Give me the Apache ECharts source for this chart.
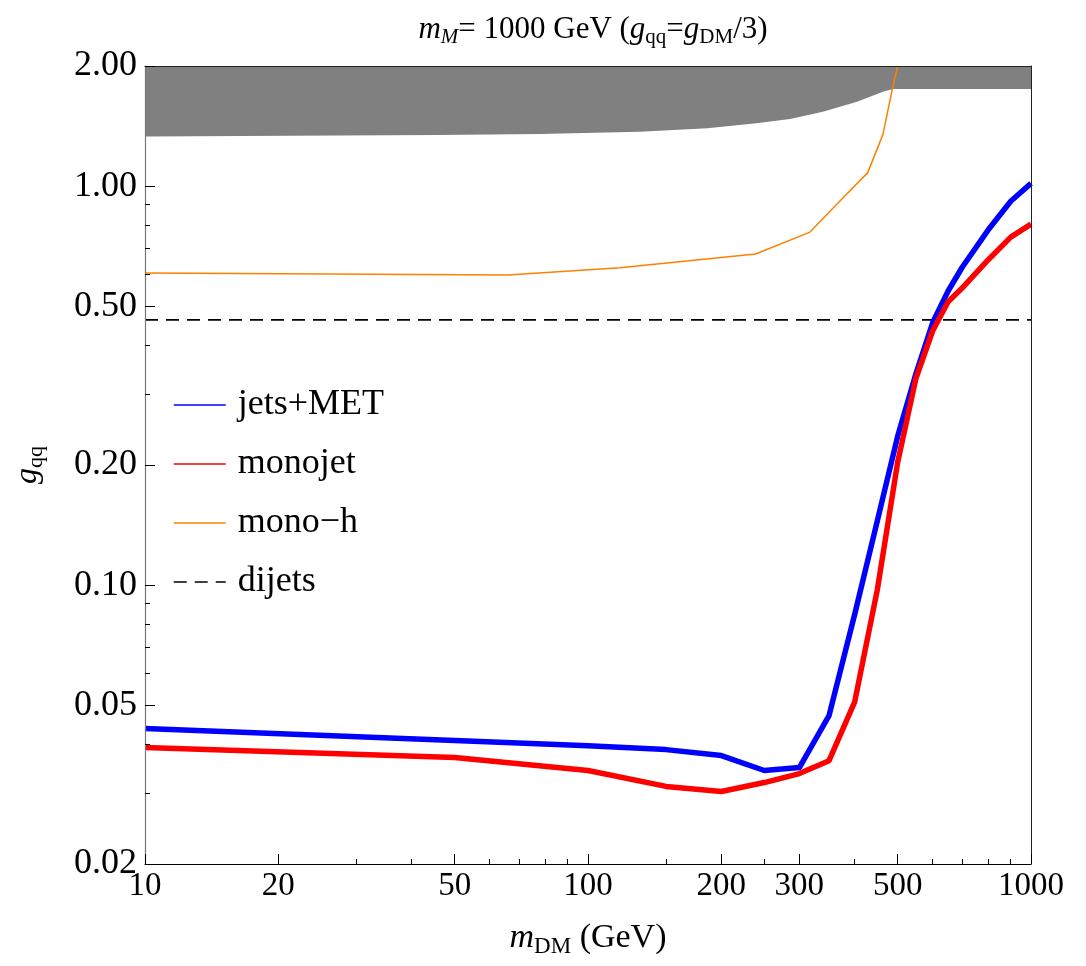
<!DOCTYPE html>
<html>
<head>
<meta charset="utf-8">
<script src="https://cdn.jsdelivr.net/npm/echarts@6/dist/echarts.min.js"></script>
<style>
html,body{margin:0;padding:0;background:#fff;}
#chart{width:1086px;height:966px;}
</style>
</head>
<body>
<div id="chart"></div>
<script>
// ---- data ----
const xMassGrid = [10, 50, 100, 150, 200, 250, 300, 350, 400, 450, 500, 550, 600, 650, 700, 800, 900, 1000];
const jetsMET = [0.0437, 0.0408, 0.0396, 0.0387, 0.0374, 0.0343, 0.0349, 0.0471, 0.0845, 0.145, 0.236, 0.339, 0.455, 0.546, 0.627, 0.776, 0.916, 1.016];
const monojet = [0.0392, 0.0370, 0.0343, 0.0313, 0.0304, 0.0320, 0.0337, 0.0363, 0.051, 0.0975, 0.203, 0.330, 0.434, 0.513, 0.556, 0.653, 0.745, 0.803];

const xMonoH = [10, 66, 118, 239, 317, 370, 428, 463, 486, 500];
const monoH = [0.606, 0.599, 0.624, 0.676, 0.767, 0.916, 1.081, 1.346, 1.742, 2.0];

const xDijets = [10, 1000];
const dijets = [0.462, 0.462];

const xBand = [10, 46, 78, 131, 186, 240, 286, 339, 405, 463, 488, 1000];
const bandLow = [1.332, 1.343, 1.351, 1.369, 1.396, 1.437, 1.473, 1.536, 1.628, 1.724, 1.752, 1.752];

const xTicks = [10, 20, 50, 100, 200, 300, 500, 1000];
const xMinorTicks = [30, 40, 60, 70, 80, 90, 150, 250, 400, 600, 700, 800, 900];
const yTicks = [0.02, 0.05, 0.1, 0.2, 0.5, 1, 2];
const yMinorTicks = [0.03, 0.04, 0.06, 0.07, 0.08, 0.09, 0.3, 0.4, 0.6, 0.7, 0.8, 0.9];

// ---- helpers ----
const pairs = (xs, ys) => xs.map((x, i) => [x, ys[i]]);
const lg = arr => arr.map(v => Math.log10(v));
const SERIF = 'Liberation Serif';

const chart = echarts.init(document.getElementById('chart'), null, {renderer: 'canvas'});

const rich = (size) => {
  const sub = Math.round(size * 0.68);
  const base = {fontFamily: SERIF, color: '#000', fontWeight: 'normal'};
  return {
    r: Object.assign({}, base, {fontSize: size, lineHeight: size + 6, verticalAlign: 'middle'}),
    i: Object.assign({}, base, {fontSize: size, fontStyle: 'italic', lineHeight: size + 6, verticalAlign: 'middle'}),
    s: Object.assign({}, base, {fontSize: sub, lineHeight: sub, verticalAlign: 'bottom'}),
    si: Object.assign({}, base, {fontSize: sub, fontStyle: 'italic', lineHeight: sub, verticalAlign: 'bottom'})
  };
};

const xLo = Math.log10(xTicks[0]), xHi = Math.log10(xTicks[xTicks.length - 1]);
const yLo = Math.log10(yTicks[0]), yHi = Math.log10(yTicks[yTicks.length - 1]);

const hiddenParts = {axisLine: {show: false}, axisTick: {show: false}, axisLabel: {show: false}, splitLine: {show: false}};

const option = {
  animation: false,
  backgroundColor: '#fff',
  title: {
    text: '{i|m}{si|M}{r|= 1000 GeV (}{i|g}{s|qq}{r|=}{i|g}{s|DM}{r|/3)}',
    left: 588,
    textAlign: 'center',
    top: 6,
    textStyle: {fontWeight: 'normal', rich: rich(31)}
  },
  grid: {left: 145, right: 55, top: 66, bottom: 102, containLabel: false},
  legend: {
    orient: 'vertical',
    left: 168,
    top: 381,
    itemWidth: 52,
    itemHeight: 20,
    itemGap: 21,
    data: ['jets+MET', 'monojet', 'mono−h', 'dijets'],
    lineStyle: {width: 1.5},
    itemStyle: {opacity: 0},
    textStyle: {fontFamily: SERIF, fontSize: 36, lineHeight: 38, color: '#000', padding: [0, 0, 0, 7]}
  },
  xAxis: [
    Object.assign({type: 'log', logBase: 10, min: 10, max: 1000, show: false}, hiddenParts),
    {
      type: 'value', min: xLo, max: xHi, position: 'bottom', z: 10,
      axisLine: {show: true, onZero: false, lineStyle: {color: '#000', width: 1}},
      axisTick: {show: true, inside: true, length: 10, customValues: lg(xTicks), lineStyle: {color: '#000'}},
      axisLabel: {show: true, customValues: lg(xTicks), margin: 6, fontFamily: SERIF, fontSize: 33, color: '#000',
        formatter: v => String(Math.round(Math.pow(10, v)))},
      splitLine: {show: false},
      name: '{i|m}{s|DM}{r| (GeV)}', nameLocation: 'middle', nameGap: 54,
      nameTextStyle: {rich: rich(34)}
    },
    {
      type: 'value', min: xLo, max: xHi, position: 'bottom', z: 10,
      axisLine: {show: false, onZero: false},
      axisTick: {show: true, inside: true, length: 5, customValues: lg(xMinorTicks), lineStyle: {color: '#000'}},
      axisLabel: {show: false}, splitLine: {show: false}
    },
    {
      type: 'value', min: xLo, max: xHi, position: 'top', z: 10,
      axisLine: {show: true, onZero: false, lineStyle: {color: '#222', width: 1}},
      axisTick: {show: false}, axisLabel: {show: false}, splitLine: {show: false}
    }
  ],
  yAxis: [
    Object.assign({type: 'log', logBase: 10, min: 0.02, max: 2, show: false}, hiddenParts),
    {
      type: 'value', min: yLo, max: yHi, position: 'left', z: 10,
      axisLine: {show: true, onZero: false, lineStyle: {color: '#777', width: 1.2}},
      axisTick: {show: true, inside: true, length: 10, customValues: lg(yTicks), lineStyle: {color: '#000'}},
      axisLabel: {show: true, customValues: lg(yTicks), margin: 8, fontFamily: SERIF, fontSize: 36, color: '#000',
        formatter: v => Math.pow(10, v).toFixed(2)},
      splitLine: {show: false},
      name: '{i|g}{s|qq}', nameLocation: 'middle', nameGap: 98, nameRotate: 90,
      nameTextStyle: {rich: rich(32)}
    },
    {
      type: 'value', min: yLo, max: yHi, position: 'left', z: 10,
      axisLine: {show: false, onZero: false},
      axisTick: {show: true, inside: true, length: 5, customValues: lg(yMinorTicks), lineStyle: {color: '#000'}},
      axisLabel: {show: false}, splitLine: {show: false}
    },
    {
      type: 'value', min: yLo, max: yHi, position: 'right', z: 10,
      axisLine: {show: true, onZero: false, lineStyle: {color: '#222', width: 1}},
      axisTick: {show: false}, axisLabel: {show: false}, splitLine: {show: false}
    }
  ],
  series: [
    {
      name: 'band', type: 'line', xAxisIndex: 0, yAxisIndex: 0,
      data: pairs(xBand, bandLow), symbol: 'none', silent: true,
      smooth: false,
      lineStyle: {opacity: 0, width: 0},
      areaStyle: {origin: 'end', color: '#808080', opacity: 1},
      z: 1
    },
    {
      name: 'mono−h', type: 'line', xAxisIndex: 0, yAxisIndex: 0,
      data: pairs(xMonoH, monoH), symbol: 'none',
      color: '#ff8000',
      lineStyle: {color: '#ff8000', width: 1.5}, z: 3
    },
    {
      name: 'dijets', type: 'line', xAxisIndex: 0, yAxisIndex: 0,
      data: pairs(xDijets, dijets), symbol: 'none',
      color: '#000',
      lineStyle: {color: '#000', width: 1.6, type: [13, 8]}, z: 3
    },
    {
      name: 'jets+MET', type: 'line', xAxisIndex: 0, yAxisIndex: 0,
      data: pairs(xMassGrid, jetsMET), symbol: 'none',
      color: '#0000ff',
      lineStyle: {color: '#0000ff', width: 5.5, join: 'round'}, z: 4
    },
    {
      name: 'monojet', type: 'line', xAxisIndex: 0, yAxisIndex: 0,
      data: pairs(xMassGrid, monojet), symbol: 'none',
      color: '#ff0000',
      lineStyle: {color: '#ff0000', width: 5.5, join: 'round'}, z: 5
    }
  ]
};
chart.setOption(option);
</script>
</body>
</html>
